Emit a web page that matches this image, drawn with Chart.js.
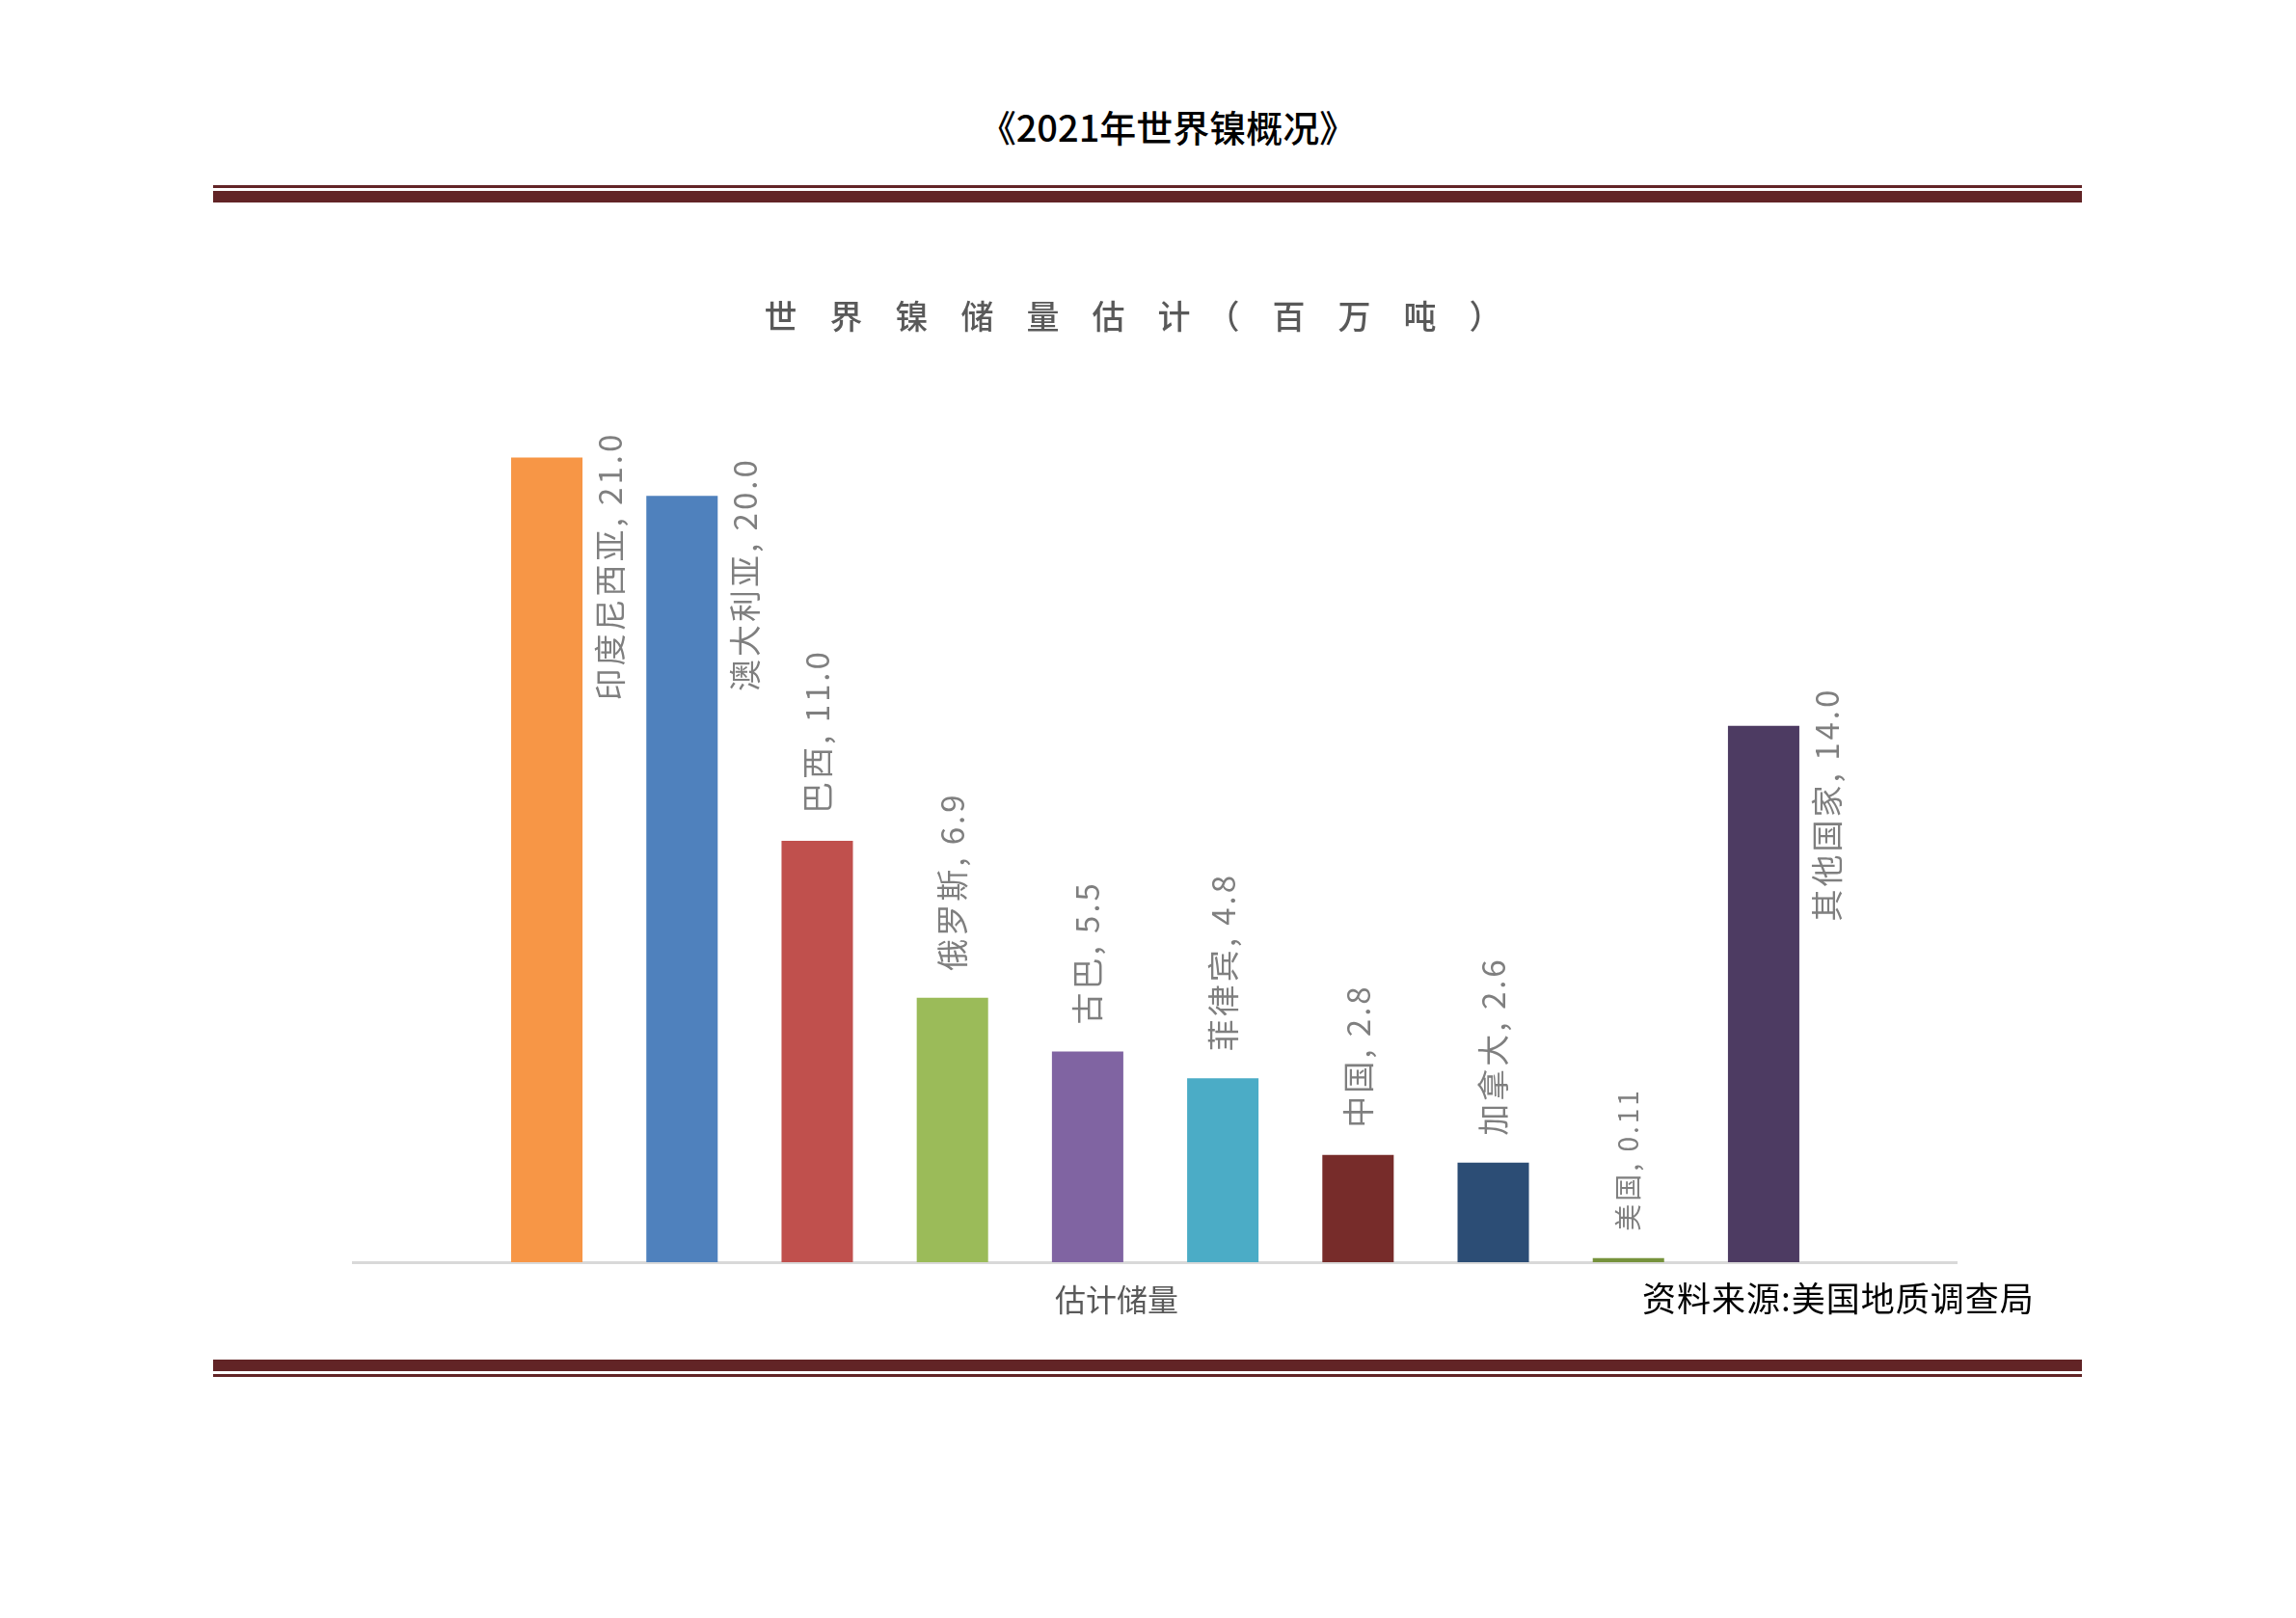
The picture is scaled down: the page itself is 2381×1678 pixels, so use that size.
<!DOCTYPE html>
<html>
<head>
<meta charset="utf-8">
<script src="https://cdn.jsdelivr.net/npm/chart.js@4.4.1/dist/chart.umd.min.js"></script>
<style>
    body { margin: 0; background: #fff; width: 2381px; height: 1678px; position: relative; overflow: hidden; font-family: "Noto Sans CJK SC", sans-serif; }
    .rule { position: absolute; left: 221px; width: 1938px; background: #622426; }
    #pageTitle { position: absolute; left: 1211px; top: 112px; transform: translateX(-50%); font-size: 38px; font-weight: 500; line-height: 1; color: #000; white-space: nowrap; }
    #source { position: absolute; left: 1703px; top: 1327px; font-size: 35px; letter-spacing: 1px; line-height: 1; color: #000; white-space: nowrap; }
    #chart { position: absolute; left: 320px; top: 280px; }
</style>
</head>
<body>
<div id="pageTitle">《2021年世界镍概况》</div>
<div class="rule" style="top:192px;height:3px"></div>
<div class="rule" style="top:198px;height:12px"></div>
<canvas id="chart" width="1710" height="1089"></canvas>
<div id="source">资料来源:美国地质调查局</div>
<div class="rule" style="top:1410px;height:12px"></div>
<div class="rule" style="top:1425px;height:3px"></div>

<script>
// 世界镍储量估计（百万吨），数据来源：美国地质调查局
const category = ['估计储量'];
const countries = ['印度尼西亚', '澳大利亚', '巴西', '俄罗斯', '古巴', '菲律宾', '中国', '加拿大', '美国', '其他国家'];
const reserves = [21.0, 20.0, 11.0, 6.9, 5.5, 4.8, 2.8, 2.6, 0.11, 14.0];
const colors = ['#F79646', '#4F81BD', '#C0504D', '#9BBB59', '#8064A2', '#4BACC6', '#772C2A', '#2C4D75', '#76923C', '#4D3B62'];

const fmt = (v) => Number.isInteger(v) ? v.toFixed(1) : String(v);

// 竖排数据标签：放得下就放在柱子上方，放不下就放到柱子右侧
const barLabels = {
    id: 'barLabels',
    afterDatasetsDraw(chart) {
        const ctx = chart.ctx;
        const area = chart.chartArea;
        chart.data.datasets.forEach((ds, i) => {
            const bar = chart.getDatasetMeta(i).data[0];
            const text = ds.label + ', ' + fmt(ds.data[0]);
            const size = ds.labelSize || 33;
            ctx.save();
            ctx.font = size + 'px "Noto Sans CJK SC", sans-serif';
            ctx.letterSpacing = '3px';
            ctx.fillStyle = '#7f7f7f';
            ctx.textBaseline = 'middle';
            ctx.textAlign = 'left';
            const w = ctx.measureText(text).width;
            let x, bottom;
            if (bar.y - 28 - w >= area.top + 100) {
                x = bar.x;
                bottom = bar.y - 28;
            } else {
                x = bar.x + bar.width / 2 + 28;
                bottom = Math.max(area.top + 13, bar.y - 40) + w;
            }
            ctx.translate(x, bottom);
            ctx.rotate(-Math.PI / 2);
            ctx.fillText(text, 0, 0);
            ctx.restore();
        });
    }
};

const datasets = countries.map((name, i) => ({
    label: name,
    data: [reserves[i]],
    backgroundColor: colors[i],
    borderWidth: 0,
    labelSize: name === '美国' ? 28 : 33
}));

new Chart(document.getElementById('chart').getContext('2d'), {
    type: 'bar',
    data: {
        labels: category,
        datasets: datasets
    },
    options: {
        responsive: false,
        animation: false,
        devicePixelRatio: 1,
        categoryPercentage: 0.8426,
        barPercentage: 0.528,
        layout: { padding: 0 },
        plugins: {
            legend: { display: false },
            tooltip: { enabled: false },
            title: {
                display: true,
                text: '世　界　镍　储　量　估　计　（　百　万　吨　）',
                color: '#595959',
                font: { family: '"Noto Sans CJK SC", sans-serif', size: 34, weight: 500, lineHeight: 1.2 },
                padding: { top: 28, bottom: 86 }
            }
        },
        scales: {
            x: {
                grid: { display: false, drawTicks: false },
                border: { display: true, color: '#d9d9d9', width: 3 },
                ticks: {
                    color: '#595959',
                    font: { family: '"Noto Sans CJK SC", sans-serif', size: 32 },
                    padding: 20,
                    labelOffset: -40
                },
                afterFit: (s) => { s.height = 60; }
            },
            y: {
                min: 0,
                max: 22,
                grid: { display: false, drawTicks: false },
                border: { display: false },
                ticks: { display: false },
                afterFit: (s) => { s.width = 46; }
            }
        }
    },
    plugins: [barLabels]
});
</script>
</body>
</html>
